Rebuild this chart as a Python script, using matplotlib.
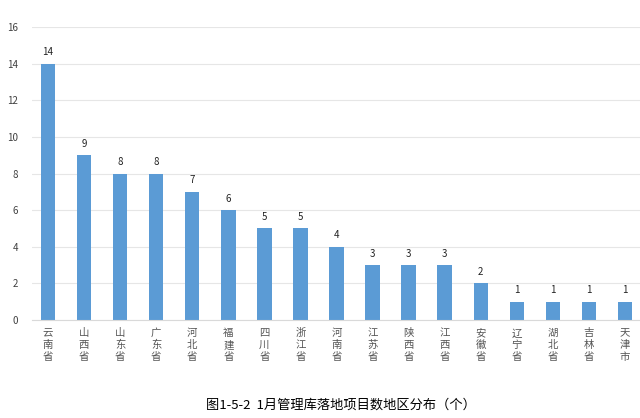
import matplotlib
matplotlib.use("Agg")
import matplotlib.pyplot as plt

plt.rcParams['font.family'] = ['Noto Sans CJK SC', 'DejaVu Sans']

regions = ["云南省", "山西省", "山东省", "广东省", "河北省", "福建省", "四川省", "浙江省",
           "河南省", "江苏省", "陕西省", "江西省", "安徽省", "辽宁省", "湖北省", "吉林省", "天津市"]
counts = [14, 9, 8, 8, 7, 6, 5, 5, 4, 3, 3, 3, 2, 1, 1, 1, 1]
yticks = [0, 2, 4, 6, 8, 10, 12, 14, 16]
title = "图1-5-2  1月管理库落地项目数地区分布（个）"

fig = plt.figure(figsize=(6.4, 4.18), dpi=100)
ax = fig.add_axes([0.05, 0.2344, 0.95, 0.701])
x = list(range(len(regions)))
ax.bar(x, counts, width=0.4, color="#5B9BD5", zorder=3)
for xi, v in zip(x, counts):
    ax.text(xi, v + 0.35, str(v), ha="center", va="bottom", fontsize=7, color="#222222")

ax.set_xlim(-0.444, len(regions) - 1 + 0.416)
ax.set_ylim(0, 16)
ax.set_yticks(yticks)
ax.set_yticklabels([str(t) for t in yticks], fontsize=7, color="#404040")
ax.yaxis.grid(True, color="#E6E6E6", linewidth=0.8, zorder=0)
ax.tick_params(axis="y", length=0, pad=10)
ax.set_xticks(x)
ax.set_xticklabels(["\n".join(r) for r in regions], fontsize=7.5, color="#555555",
                   linespacing=1.2, va="top")
ax.tick_params(axis="x", length=0, pad=6)
for s in ["top", "right", "left"]:
    ax.spines[s].set_visible(False)
ax.spines["bottom"].set_color("#D9D9D9")
ax.spines["bottom"].set_zorder(4)

fig.text(0.533, 0.03, title, ha="center", va="center", fontsize=9.5,
         fontweight="medium", color="#000000")

fig.savefig("out.png", dpi=100)
